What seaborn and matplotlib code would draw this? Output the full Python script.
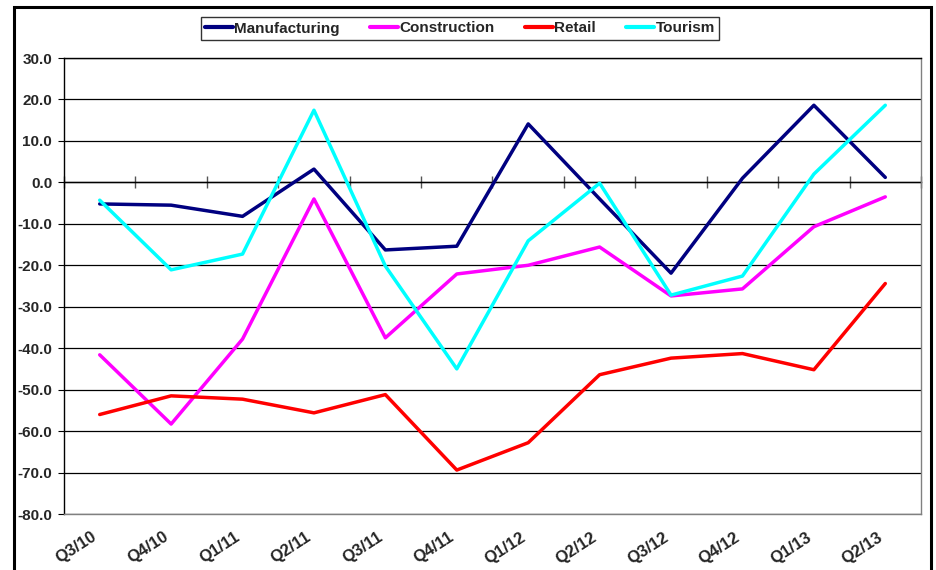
import numpy as np
import pandas as pd
import matplotlib
matplotlib.use("Agg")
import matplotlib.pyplot as plt
from matplotlib.patches import Rectangle
import seaborn as sns

# === Data ===
quarters = ["Q3/10", "Q4/10", "Q1/11", "Q2/11", "Q3/11", "Q4/11",
            "Q1/12", "Q2/12", "Q3/12", "Q4/12", "Q1/13", "Q2/13"]
manufacturing = [-5.2, -5.5, -8.2, 3.2, -16.3, -15.4, 14.1, -4.0, -21.9, 1.0, 18.6, 1.2]
construction = [-41.6, -58.3, -37.8, -4.0, -37.5, -22.1, -20.0, -15.6, -27.4, -25.7, -10.7, -3.5]
retail = [-56.0, -51.5, -52.3, -55.6, -51.2, -69.4, -62.8, -46.4, -42.4, -41.3, -45.2, -24.4]
tourism = [-4.3, -21.1, -17.3, 17.4, -20.2, -45.0, -14.1, -0.2, -27.2, -22.6, 2.0, 18.6]

series_names = ["Manufacturing", "Construction", "Retail", "Tourism"]
series_colors = ["#000080", "#FF00FF", "#FF0000", "#00FFFF"]

# long-form table for seaborn
df = pd.DataFrame({
    "idx": list(range(len(quarters))) * 4,
    "value": manufacturing + construction + retail + tourism,
    "sector": [s for s in series_names for _ in quarters],
})

sns.set_style("white")
plt.rcParams["font.family"] = ["Liberation Sans", "DejaVu Sans"]
plt.rcParams["font.weight"] = "bold"

fig = plt.figure(figsize=(9.37, 5.70), dpi=100)
ax = fig.add_axes([64 / 937, 1 - 514 / 570, (921 - 64) / 937, (514 - 58) / 570])

sns.lineplot(data=df, x="idx", y="value", hue="sector", hue_order=series_names,
             palette=series_colors, linewidth=2.5, ax=ax, legend=False)

ax.set_xlim(-0.5, len(quarters) - 0.5)
ax.set_ylim(-80, 30)
ax.set_yticks(np.arange(-80, 31, 10))
ax.set_yticklabels([f"{v:.1f}" for v in np.arange(-80, 31, 10)], fontsize=11, fontweight="bold")
ax.yaxis.grid(True, color="black", linewidth=0.9)
ax.set_axisbelow(True)
ax.tick_params(axis="y", direction="out", length=4.5, width=0.8, color="black", pad=4, left=True)

ax.set_xticks(range(len(quarters)))
ax.set_xticklabels(quarters, rotation=33, ha="right", va="top", fontsize=12, fontweight="bold")
ax.tick_params(axis="x", length=0, pad=11)
ax.set_xlabel("")
ax.set_ylabel("")

ax.spines["left"].set_color("black")
ax.spines["top"].set_color("black")
ax.spines["right"].set_color("#808080")
ax.spines["bottom"].set_color("#808080")
for sp in ax.spines.values():
    sp.set_linewidth(1.0)

# category axis crossing at zero, with tick marks between categories
zero_pos = (0 - (-80)) / (30 - (-80))
ax2 = ax.secondary_xaxis(zero_pos)
ax2.set_xticks(np.arange(-0.5, len(quarters), 1.0))
ax2.set_xticklabels([])
ax2.tick_params(axis="x", direction="inout", length=9, width=1.0, color="#555555")
ax2.spines["top"].set_color("black")
ax2.spines["top"].set_linewidth(1.0)

# legend
handles = [plt.Line2D([0], [0], color=c, linewidth=3) for c in series_colors]
leg = fig.legend(handles, series_names, loc="center", bbox_to_anchor=(460 / 937, 1 - 28.5 / 570),
                 ncol=4, frameon=True, fancybox=False, handlelength=1.8, handletextpad=0.1,
                 columnspacing=2.0, borderpad=0.3, prop={"weight": "bold", "size": 11})
leg.get_frame().set_edgecolor("black")
leg.get_frame().set_linewidth(1.0)

# outer chart frame
fig.patches.append(Rectangle((14 / 937, -0.1), (931 - 14) / 937, 1.1 - 7 / 570,
                             transform=fig.transFigure, fill=False, edgecolor="black",
                             linewidth=2.2))

fig.savefig("out.png", dpi=100)
